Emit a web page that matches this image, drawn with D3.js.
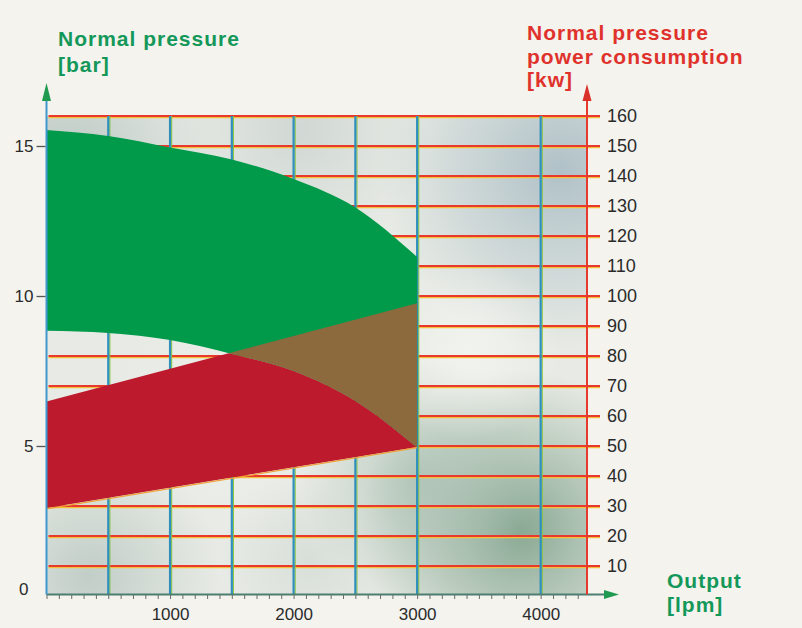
<!DOCTYPE html>
<html><head><meta charset="utf-8">
<script src="https://cdn.jsdelivr.net/npm/d3@7"></script>
<style>body{margin:0;background:#f4f3ee;overflow:hidden}</style>
</head><body><svg id="c" width="802" height="628"></svg>
<script>
// ---- data ----
const flowLabels = [1000, 2000, 3000, 4000];
const flowGrid = [500, 1000, 1500, 2000, 2500, 3000, 4000];
const pressureTicks = [0, 5, 10, 15];
const powerTicks = [10, 20, 30, 40, 50, 60, 70, 80, 90, 100, 110, 120, 130, 140, 150, 160];
const flow = [0, 500, 1000, 1500, 2000, 2500, 3000];
const pressureMax = [15.53, 15.33, 14.95, 14.55, 13.9, 12.95, 11.3];
const pressureMin = [8.84, 8.77, 8.53, 8.07, 7.5, 6.5, 4.95];
const powerFlow = [0, 3000];
const powerMin = [29.3, 49.7];
const powerMax = [64.8, 97.6];

const svg = d3.select('#c');
const L = 46.5, R = 587, T = 116, B = 596;
const x = d3.scaleLinear().domain([0, 4375]).range([L, R]);
const yK = d3.scaleLinear().domain([0, 160]).range([B, T]);
const yP = d3.scaleLinear().domain([0, 16]).range([B, T]);

const defs = svg.append('defs');
svg.append('rect').attr('width', 802).attr('height', 628).attr('fill', '#f4f3ee');

// background mottled plot area
defs.append('clipPath').attr('id', 'plotclip').append('rect')
  .attr('x', L).attr('y', T).attr('width', R - L).attr('height', B - 1 - T);
const patches = [
  {cx: 70, cy: 160, r: 150, c: '#b6c4c0', o: 0.85},
  {cx: 300, cy: 130, r: 130, c: '#c6cfcd', o: 0.7},
  {cx: 560, cy: 170, r: 180, c: '#adbfc6', o: 0.95},
  {cx: 520, cy: 530, r: 160, c: '#84a58f', o: 0.95},
  {cx: 420, cy: 480, r: 120, c: '#a6bdb0', o: 0.7},
  {cx: 90, cy: 575, r: 130, c: '#b8c6c0', o: 0.8},
  {cx: 310, cy: 560, r: 90, c: '#cdd6d0', o: 0.6},
  {cx: 470, cy: 350, r: 90, c: '#f4f5f0', o: 0.8},
  {cx: 230, cy: 420, r: 120, c: '#f2f3ee', o: 0.6}
];
const bg = svg.append('g').attr('clip-path', 'url(#plotclip)');
bg.append('rect').attr('x', L).attr('y', T).attr('width', R - L).attr('height', B - T).attr('fill', '#e8ebe5');
patches.forEach((p, i) => {
  const g = defs.append('radialGradient').attr('id', 'pg' + i);
  g.append('stop').attr('offset', '0%').attr('stop-color', p.c).attr('stop-opacity', p.o);
  g.append('stop').attr('offset', '100%').attr('stop-color', p.c).attr('stop-opacity', 0);
  bg.append('circle').attr('cx', p.cx).attr('cy', p.cy).attr('r', p.r).attr('fill', `url(#pg${i})`);
});

// grid lines
const grid = svg.append('g');
powerTicks.forEach(v => {
  grid.append('line').attr('x1', L + 2).attr('x2', 600).attr('y1', yK(v) + 1.6).attr('y2', yK(v) + 1.6)
    .attr('stroke', '#f3c23a').attr('stroke-width', 1.2);
  grid.append('line').attr('x1', L + 2).attr('x2', 600).attr('y1', yK(v)).attr('y2', yK(v))
    .attr('stroke', '#e8392c').attr('stroke-width', 2.2);
});
flowGrid.forEach(v => {
  grid.append('line').attr('x1', x(v) + 1.6).attr('x2', x(v) + 1.6).attr('y1', T).attr('y2', B - 2)
    .attr('stroke', '#8cc63f').attr('stroke-width', 1.1);
  grid.append('line').attr('x1', x(v)).attr('x2', x(v)).attr('y1', T).attr('y2', B - 2)
    .attr('stroke', '#2f8fbf').attr('stroke-width', 2.2);
});

// areas
const greenArea = d3.area().x((d, i) => x(flow[i])).y0((d, i) => yP(pressureMin[i])).y1((d, i) => yP(pressureMax[i])).curve(d3.curveMonotoneX);
const redArea = d3.area().x((d, i) => x(powerFlow[i])).y0((d, i) => yK(powerMin[i])).y1((d, i) => yK(powerMax[i]));
const greenD = greenArea(flow);
const redD = redArea(powerFlow);
const lowerPressure = d3.line().x((d, i) => x(flow[i])).y((d, i) => yP(pressureMin[i])).curve(d3.curveMonotoneX);

defs.append('clipPath').attr('id', 'greenclip').append('path').attr('d', greenD);
defs.append('clipPath').attr('id', 'belowgreen').append('path')
  .attr('d', lowerPressure(flow) + `L${x(3000)},${B}L${x(0)},${B}Z`);

svg.append('path').attr('d', greenD).attr('fill', '#009a4a');
const redG = svg.append('g').attr('clip-path', 'url(#belowgreen)');
redG.append('path').attr('d', redD).attr('fill', '#bd1a2d');
svg.append('g').attr('clip-path', 'url(#greenclip)').append('path').attr('d', redD).attr('fill', '#8c6a3e');
// thin orange edge under red band
svg.append('line').attr('x1', x(powerFlow[0])).attr('y1', yK(powerMin[0]) + 0.8)
  .attr('x2', x(powerFlow[1])).attr('y2', yK(powerMin[1]) + 0.8)
  .attr('stroke', '#f0a23a').attr('stroke-width', 1.2);

// axes lines
const ax = svg.append('g');
ax.append('line').attr('x1', L).attr('x2', 606).attr('y1', B - 1.5).attr('y2', B - 1.5).attr('stroke', '#4d7f70').attr('stroke-width', 1.8);
ax.append('path').attr('d', `M604,${B - 6}L619,${B - 1.5}L604,${B + 3}Z`).attr('fill', '#1f9a50');
ax.append('line').attr('x1', R).attr('x2', R).attr('y1', B - 1.5).attr('y2', 98).attr('stroke', '#e63a2e').attr('stroke-width', 2);
ax.append('path').attr('d', `M${R - 4.5},101L${R},84L${R + 4.5},101Z`).attr('fill', '#d9302a');
ax.append('line').attr('x1', L).attr('x2', L).attr('y1', B - 1.5).attr('y2', 100).attr('stroke', '#3f97cf').attr('stroke-width', 2);
ax.append('path').attr('d', `M${L - 4.5},101L${L},83L${L + 4.5},101Z`).attr('fill', '#1f9a50');

// d3 axes for ticks/labels
const numFont = 'Liberation Sans, Arial, sans-serif';
const leftAx = svg.append('g').attr('transform', `translate(${L - 1},0)`)
  .call(d3.axisLeft(yP).tickValues(pressureTicks).tickSize(9).tickPadding(3).tickFormat(d3.format('d')));
leftAx.select('.domain').remove();
leftAx.selectAll('line').attr('stroke', '#555').attr('stroke-width', 1.3).filter(d => d === 0).remove();
leftAx.selectAll('text').attr('font-family', numFont).attr('font-size', 17).attr('fill', '#2b2b2b');
leftAx.selectAll('text').filter(d => d === 0).attr('dy', '-0.1em').attr('x', -17);

const rightAx = svg.append('g').attr('transform', `translate(${R},0)`)
  .call(d3.axisRight(yK).tickValues(powerTicks).tickSize(0).tickPadding(20).tickFormat(d3.format('d')));
rightAx.select('.domain').remove();
rightAx.selectAll('text').attr('font-family', numFont).attr('font-size', 18).attr('fill', '#2b2b2b');

const minor = d3.range(0, 4301, 100);
const minorAx = svg.append('g').attr('transform', `translate(0,${B - 1})`)
  .call(d3.axisBottom(x).tickValues(minor).tickSize(4).tickFormat(''));
minorAx.select('.domain').remove();
minorAx.selectAll('line').attr('stroke', '#6a6a6a').attr('stroke-width', 1);

const botAx = svg.append('g').attr('transform', `translate(0,${B - 1})`)
  .call(d3.axisBottom(x).tickValues(flowLabels).tickSize(0).tickPadding(13).tickFormat(d3.format('d')));
botAx.select('.domain').remove();
botAx.selectAll('text').attr('font-family', numFont).attr('font-size', 17).attr('fill', '#2b2b2b');

// titles
const tf = 'Liberation Sans, Arial, sans-serif';
function title(lines, xx, ys, color, ls) {
  lines.forEach((t, i) => {
    svg.append('text').attr('x', xx).attr('y', ys[i]).attr('font-family', tf).attr('font-weight', 700)
      .attr('font-size', 21).attr('letter-spacing', ls).attr('fill', color).text(t);
  });
}
title(['Normal pressure', '[bar]'], 58, [46, 72], '#13985a', 1.0);
title(['Normal pressure', 'power consumption', '[kw]'], 527, [40, 64, 87], '#e0322c', 1.0);
title(['Output', '[lpm]'], 667, [588, 612], '#13985a', 1.0);
</script></body></html>
